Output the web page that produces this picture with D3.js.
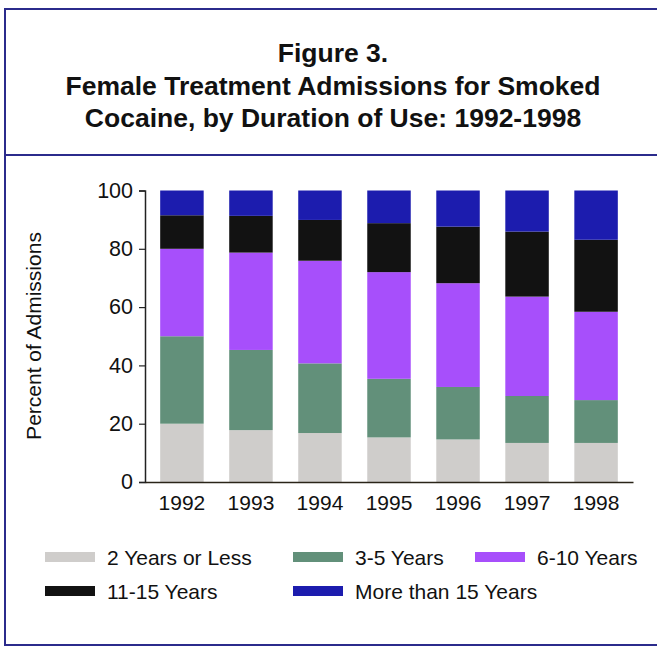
<!DOCTYPE html>
<html>
<head>
<meta charset="utf-8">
<script src="https://cdn.jsdelivr.net/npm/d3@7"></script>
<style>
  body { margin: 0; background: #fff; }
  text { font-family: "Liberation Sans", Arial, Helvetica, sans-serif; fill: #111; }
</style>
</head>
<body>
<svg width="657" height="648"></svg>
<script>
"use strict"

// data (percent of admissions)
const years = ["1992", "1993", "1994", "1995", "1996", "1997", "1998"]
const groups = ["2 Years or Less", "3-5 Years", "6-10 Years", "11-15 Years", "More than 15 Years"]
const twoOrLess = [20, 17.8, 16.8, 15.3, 14.6, 13.4, 13.4]
const threeToFive = [30, 27.5, 23.9, 20.1, 18.0, 16.1, 14.7]
const sixToTen = [30, 33.4, 35.2, 36.6, 35.6, 34.1, 30.3]
const elevenToFifteen = [11.5, 12.6, 14.0, 16.8, 19.4, 22.3, 24.7]
const moreThanFifteen = [8.5, 8.7, 10.1, 11.2, 12.4, 14.1, 16.9]
const yTicks = [0, 20, 40, 60, 80, 100]
const titleLines = ["Figure 3.", "Female Treatment Admissions for Smoked", "Cocaine, by Duration of Use: 1992-1998"]

const series = [twoOrLess, threeToFive, sixToTen, elevenToFifteen, moreThanFifteen]
const colors = ["#cfcdcb", "#62907a", "#a74ffb", "#121212", "#1c1cae"]

let svg = d3.select("svg")

// frame
svg.append("rect")
  .attr("x", 5).attr("y", 9)
  .attr("width", 665).attr("height", 636)
  .attr("fill", "none")
  .attr("stroke", "#2b2b8c")
  .attr("stroke-width", 2)
svg.append("line")
  .attr("x1", 5).attr("x2", 670)
  .attr("y1", 155).attr("y2", 155)
  .attr("stroke", "#2b2b8c")
  .attr("stroke-width", 2)

// title
svg.selectAll(".title")
  .data(titleLines)
  .enter().append("text")
    .attr("class", "title")
    .attr("x", 333)
    .attr("y", (d, i) => 62 + i * 32.5)
    .attr("text-anchor", "middle")
    .attr("font-size", "26.5px")
    .attr("font-weight", "bold")
    .text(d => d)

let table = years.map((y, i) => {
  let row = {year: y}
  groups.forEach((g, k) => row[g] = series[k][i])
  return row
})
let stacked = d3.stack().keys(groups)(table)

let x = d3.scaleBand()
  .domain(years)
  .range([145, 633])
  .paddingInner(0.37)
  .paddingOuter(0.22)

let y = d3.scaleLinear()
  .domain([0, 100])
  .range([482, 190.5])

let color = d3.scaleOrdinal().domain(groups).range(colors)

svg.append("g")
  .selectAll("g")
  .data(stacked)
  .enter().append("g")
    .attr("fill", d => color(d.key))
  .selectAll("rect")
  .data(d => d)
  .enter().append("rect")
    .attr("x", d => x(d.data.year))
    .attr("y", d => y(Math.min(d[1], 100)))
    .attr("height", d => y(d[0]) - y(Math.min(d[1], 100)))
    .attr("width", x.bandwidth())

// y axis
let yAxis = svg.append("g")
  .attr("transform", "translate(145,0)")
  .call(d3.axisLeft(y).tickValues(yTicks).tickSize(6).tickPadding(6))
yAxis.select(".domain").attr("stroke", "#222").attr("stroke-width", 1.5)
yAxis.selectAll(".tick line").attr("stroke", "#222").attr("stroke-width", 1.2)
yAxis.selectAll("text")
  .attr("font-size", "21.5px")
  .attr("fill", "#111")

// x axis
let xAxis = svg.append("g")
  .attr("transform", "translate(0,482)")
  .call(d3.axisBottom(x).tickSize(0).tickPadding(13))
xAxis.select(".domain").attr("stroke", "#2a2418").attr("stroke-width", 1.5)
xAxis.selectAll("text")
  .attr("font-size", "21px")
  .attr("fill", "#111")

svg.append("text")
  .attr("transform", "translate(41,336) rotate(-90)")
  .attr("text-anchor", "middle")
  .attr("font-size", "21px")
  .attr("fill", "#222")
  .text("Percent of Admissions")

// legend
let legendPos = [[45, 557], [293, 557], [475, 557], [45, 591], [293, 591]]
let legend = svg.selectAll(".legend")
  .data(groups)
  .enter().append("g")
    .attr("class", "legend")
    .attr("transform", (d, i) => "translate(" + legendPos[i][0] + "," + legendPos[i][1] + ")")
legend.append("rect")
  .attr("x", 0).attr("y", -5)
  .attr("width", 50).attr("height", 10)
  .attr("fill", d => color(d))
legend.append("text")
  .attr("x", 62)
  .attr("y", 7.5)
  .attr("font-size", "21px")
  .text(d => d)
</script>
</body>
</html>
